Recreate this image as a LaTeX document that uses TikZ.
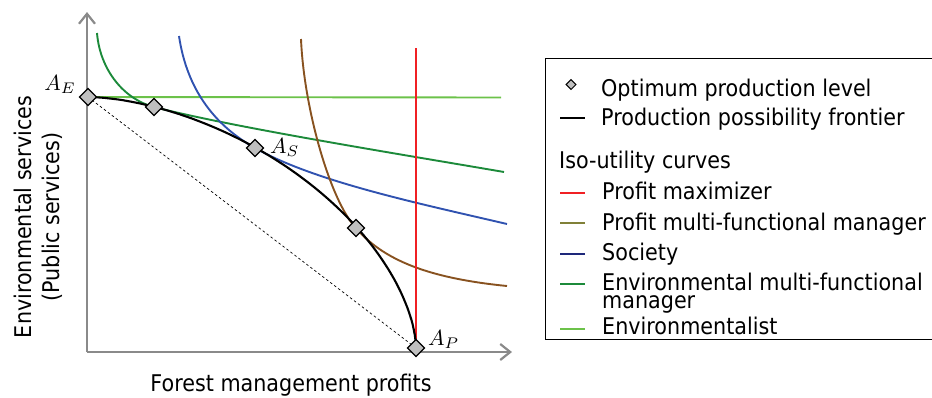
\documentclass[tikz,border=0pt]{standalone}
\usepackage{graphicx}
\usepackage{fontspec}
\setmainfont{DejaVu Sans}[FakeStretch=0.9]
\usetikzlibrary{arrows.meta,positioning,shapes.geometric}
\definecolor{axisgray}{RGB}{138,138,138}
\definecolor{profred}{RGB}{240,32,36}
\definecolor{profbrown}{RGB}{136,82,32}
\definecolor{socblue}{RGB}{48,82,176}
\definecolor{envgreen}{RGB}{28,138,58}
\definecolor{envlight}{RGB}{108,194,74}
\definecolor{legolive}{RGB}{128,128,56}
\definecolor{legnavy}{RGB}{30,40,122}
\newcommand{\ptlab}[1]{\scalebox{2.2}{$#1$}}
\tikzset{
    x=1pt, y=-1pt,
    axis/.style={draw=axisgray, line width=2.2pt, -{Straight Barb[length=10pt,width=16pt]}},
    iso/.style={line width=1.9pt},
    frontier/.style={black, line width=2.1pt},
    optimum/.style={rectangle, rotate=45, draw, fill=gray!50, line width=1.3pt, minimum size=12pt, inner sep=0pt},
    legdot/.style={optimum, minimum size=7pt, line width=1pt},
    pointlabel/.style={font=\fontsize{10}{12}\selectfont, inner sep=0pt},
    legtext/.style={font=\fontsize{23}{18}\selectfont, anchor=base west, inner sep=0pt},
    legline/.style={line width=2pt},
}
\begin{document}
\begin{tikzpicture}
    \path[use as bounding box, clip] (0,0) rectangle (932,397);
    % axes
    \coordinate (O) at (87,352);
    \coordinate (xtip) at (512,352);
    \coordinate (ytip) at (87,12);
    \draw[axis] (O) -- (xtip);
    \draw[axis] (O) -- (ytip);
    % points on the frontier
    \coordinate (AE) at (88,97);
    \coordinate (D2) at (154,107);
    \coordinate (AS) at (255,148);
    \coordinate (D4) at (356,228);
    \coordinate (AP) at (416,348);
    \draw[black, line width=0.7pt, dash pattern=on 2.5pt off 2.5pt] (AE) -- (AP);
    % iso-utility curves
    \coordinate (redtop) at (416,48);
    \coordinate (lgend) at (501,97.5);
    \coordinate (egstart) at (97,33);
    \coordinate (egend) at (504,172);
    \coordinate (sbstart) at (179,36);
    \coordinate (sbend) at (507,224);
    \coordinate (pbstart) at (301,39);
    \coordinate (pbend) at (507,286);
    \draw[iso, envlight] (AE) -- (lgend);
    \draw[iso, envgreen] (egstart) .. controls (100,70) and (124,99.3) .. (D2)
        .. controls (234,127.6) and (404,154.8) .. (egend);
    \draw[iso, socblue] (sbstart) .. controls (187,90) and (215,125.5) .. (AS)
        .. controls (315,181.7) and (417,203) .. (sbend);
    \draw[iso, profbrown] (pbstart) .. controls (304,110) and (331,202) .. (D4)
        .. controls (386,263.5) and (437,279) .. (pbend);
    \draw[iso, profred] (redtop) -- (AP);
    % production possibility frontier
    \draw[frontier] (AP) -- plot[domain=0.1:89.9, samples=120, variable=\t]
        ({88+328*cos(\t)^1.176}, {348-251*sin(\t)^1.176}) -- (AE);
    \node[optimum] (nAE) at (AE) {};
    \node[optimum] (nD2) at (D2) {};
    \node[optimum] (nAS) at (AS) {};
    \node[optimum] (nD4) at (D4) {};
    \node[optimum] (nAP) at (AP) {};
    \node[pointlabel, anchor=base east] (lAE) at (76,90) {\ptlab{A_E}};
    \node[pointlabel, anchor=base west] (lAS) at (270,153) {\ptlab{A_S}};
    \node[pointlabel, anchor=base west] (lAP) at (428,345) {\ptlab{A_P}};
    % axis titles
    \node[font=\fontsize{23}{28}\selectfont, anchor=base] (xlab) at (291,391.5) {Forest management profits};
    \node[font=\fontsize{23}{28}\selectfont, rotate=90, align=center] (ylab) at (38,217)
        {Environmental services\\(Public services)};
    % legend
    \draw[black, line width=1.1pt] (545.5,58.5) rectangle (960,339.5);
    \node[legdot] (k1) at (571,84.5) {};
    \draw[legline, black] (560,118.3) -- (585,118.3);
    \draw[legline, profred] (560,193.3) -- (585,193.3);
    \draw[legline, legolive] (560,223.3) -- (585,223.3);
    \draw[legline, legnavy] (560,253.7) -- (585,253.7);
    \draw[legline, envgreen] (560,284) -- (585,284);
    \draw[legline, envlight] (560,329) -- (585,329);
    \node[legtext] (t1) at (601,96.7) {Optimum production level};
    \node[legtext] (t2) at (601,125) {Production possibility frontier};
    \node[legtext] (t3) at (559,168) {Iso-utility curves};
    \node[legtext] (t4) at (602,199.3) {Profit maximizer};
    \node[legtext] (t5) at (602,230) {Profit multi-functional manager};
    \node[legtext] (t6) at (602,260.7) {Society};
    \node[legtext, align=left] (t7) at (602,308.3) {Environmental multi-functional\\manager};
    \node[legtext] (t8) at (602,334) {Environmentalist};
\end{tikzpicture}
\end{document}
